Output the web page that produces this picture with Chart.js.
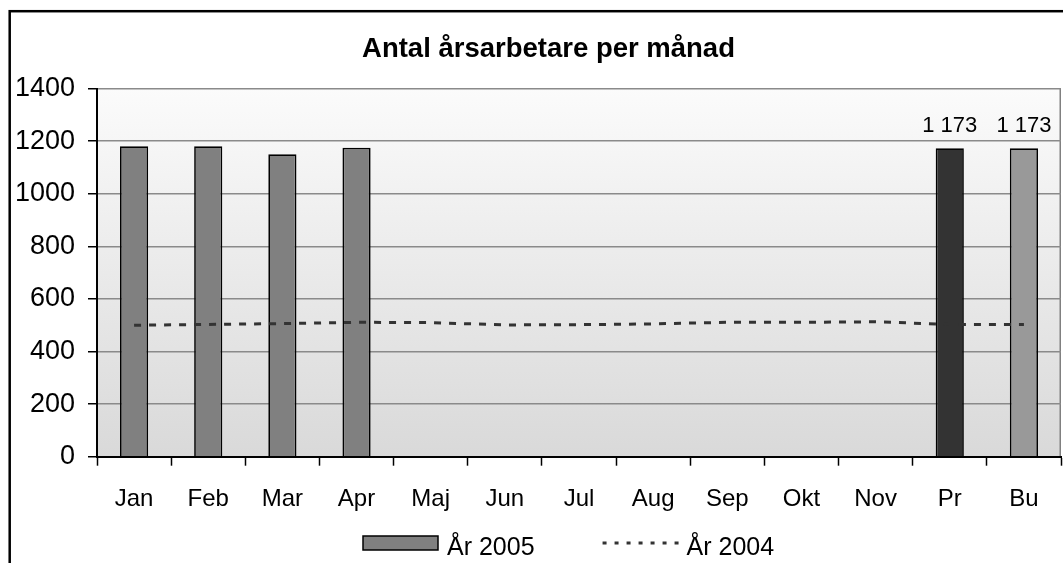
<!DOCTYPE html>
<html>
<head>
<meta charset="utf-8">
<script src="https://cdn.jsdelivr.net/npm/chart.js@4.4.1/dist/chart.umd.min.js"></script>
<style>
  html, body { margin: 0; padding: 0; background: #fff; }
</style>
</head>
<body>
<canvas id="chart" width="1063" height="563"></canvas>
<script>
const title = 'Antal årsarbetare per månad';
const months = ['Jan', 'Feb', 'Mar', 'Apr', 'Maj', 'Jun', 'Jul', 'Aug', 'Sep', 'Okt', 'Nov', 'Pr', 'Bu'];
const year2005 = [1180, 1180, 1150, 1175, null, null, null, null, null, null, null, 1173, 1173];
const year2004 = [500, 503, 506, 511, 510, 501, 502, 505, 511, 511, 513, 503, 503];
const barColors = ['#808080', '#808080', '#808080', '#808080', '#808080', '#808080', '#808080',
                   '#808080', '#808080', '#808080', '#808080', '#333333', '#999999'];
const labelledBars = ['Pr', 'Bu'];
const yMin = 0, yMax = 1400, yStep = 200;

const font = '"Liberation Sans", Arial, sans-serif';

// space as thousands separator, like "1 173"
const fmt = v => String(v).replace(/\B(?=(\d{3})+(?!\d))/g, ' ');

const frame = {
  id: 'frame',
  beforeDraw(chart) {
    const ctx = chart.ctx;
    const a = chart.chartArea;
    ctx.save();
    ctx.fillStyle = '#fff';
    ctx.fillRect(0, 0, chart.width, chart.height);
    const g = ctx.createLinearGradient(0, a.top, 0, a.bottom);
    g.addColorStop(0, '#fbfbfb');
    g.addColorStop(1, '#d9d9d9');
    ctx.fillStyle = g;
    ctx.fillRect(a.left, a.top, a.right - a.left, a.bottom - a.top);
    ctx.strokeStyle = '#808080';
    ctx.lineWidth = 1.5;
    ctx.beginPath();
    ctx.moveTo(a.right - 0.75, a.top);
    ctx.lineTo(a.right - 0.75, a.bottom);
    ctx.stroke();
    ctx.strokeStyle = '#000';
    ctx.lineWidth = 2.5;
    ctx.strokeRect(9.7, 11.2, 1100, 600);
    ctx.restore();
  },
  afterDatasetsDraw(chart) {
    const ctx = chart.ctx;
    const meta = chart.getDatasetMeta(0);
    ctx.save();
    ctx.fillStyle = '#000';
    ctx.font = '22px ' + font;
    ctx.textAlign = 'center';
    ctx.textBaseline = 'alphabetic';
    labelledBars.forEach(name => {
      const i = months.indexOf(name);
      const bar = meta.data[i];
      ctx.fillText(fmt(year2005[i]), bar.x, bar.y - 16);
    });
    ctx.restore();
  },
  afterDraw(chart) {
    const ctx = chart.ctx;
    const ds = chart.data.datasets;
    ctx.save();
    ctx.fillStyle = '#000';
    ctx.font = 'bold 27.5px ' + font;
    ctx.textAlign = 'center';
    ctx.textBaseline = 'alphabetic';
    ctx.fillText(title, 548.5, 57);

    // legend: bar swatch + label, dotted line swatch + label
    ctx.font = '25px ' + font;
    ctx.textAlign = 'left';
    let x = 363;
    const midY = 543;
    ctx.fillStyle = '#808080';
    ctx.fillRect(x, midY - 7, 75, 14);
    ctx.strokeStyle = '#000';
    ctx.lineWidth = 1.5;
    ctx.strokeRect(x, midY - 7, 75, 14);
    ctx.fillStyle = '#000';
    ctx.fillText(ds[0].label, x + 84, 555);
    x += 84 + ctx.measureText(ds[0].label).width + 68;
    ctx.strokeStyle = ds[1].borderColor;
    ctx.lineWidth = ds[1].borderWidth;
    ctx.setLineDash([4, 8]);
    ctx.beginPath();
    ctx.moveTo(x, midY);
    ctx.lineTo(x + 77, midY);
    ctx.stroke();
    ctx.setLineDash([]);
    ctx.fillText(ds[1].label, x + 84, 555);
    ctx.restore();
  }
};

new Chart(document.getElementById('chart'), {
  type: 'bar',
  data: {
    labels: months,
    datasets: [
      {
        type: 'bar',
        label: 'År 2005',
        data: year2005,
        backgroundColor: barColors,
        borderColor: '#000',
        borderWidth: 1.7,
        categoryPercentage: 1,
        barPercentage: 0.38,
        order: 2
      },
      {
        type: 'line',
        label: 'År 2004',
        data: year2004,
        borderColor: '#333333',
        backgroundColor: 'transparent',
        borderWidth: 3,
        borderDash: [7, 8],
        pointRadius: 0,
        tension: 0,
        order: 1
      }
    ]
  },
  options: {
    responsive: false,
    animation: false,
    devicePixelRatio: 1,
    layout: { padding: { left: 9, right: 2, top: 88.5, bottom: 43 } },
    scales: {
      x: {
        afterFit: s => { s.height = 63.3; },
        grid: { drawOnChartArea: false, tickLength: 9, tickColor: '#000', tickWidth: 1.5 },
        border: { color: '#000', width: 2 },
        ticks: { color: '#000', font: { family: font, size: 24 }, padding: 19, maxRotation: 0, autoSkip: false }
      },
      y: {
        min: yMin,
        max: yMax,
        afterFit: s => { s.width = 88; },
        grid: { color: '#8a8a8a', lineWidth: 1.5, tickLength: 9, tickColor: '#000', tickWidth: 1.5 },
        border: { color: '#000', width: 2 },
        ticks: {
          stepSize: yStep,
          color: '#000',
          padding: 13,
          font: { family: font, size: 27 },
          callback: v => String(v)
        }
      }
    },
    plugins: {
      tooltip: { enabled: false },
      legend: { display: false }
    }
  },
  plugins: [frame]
});
</script>
</body>
</html>
